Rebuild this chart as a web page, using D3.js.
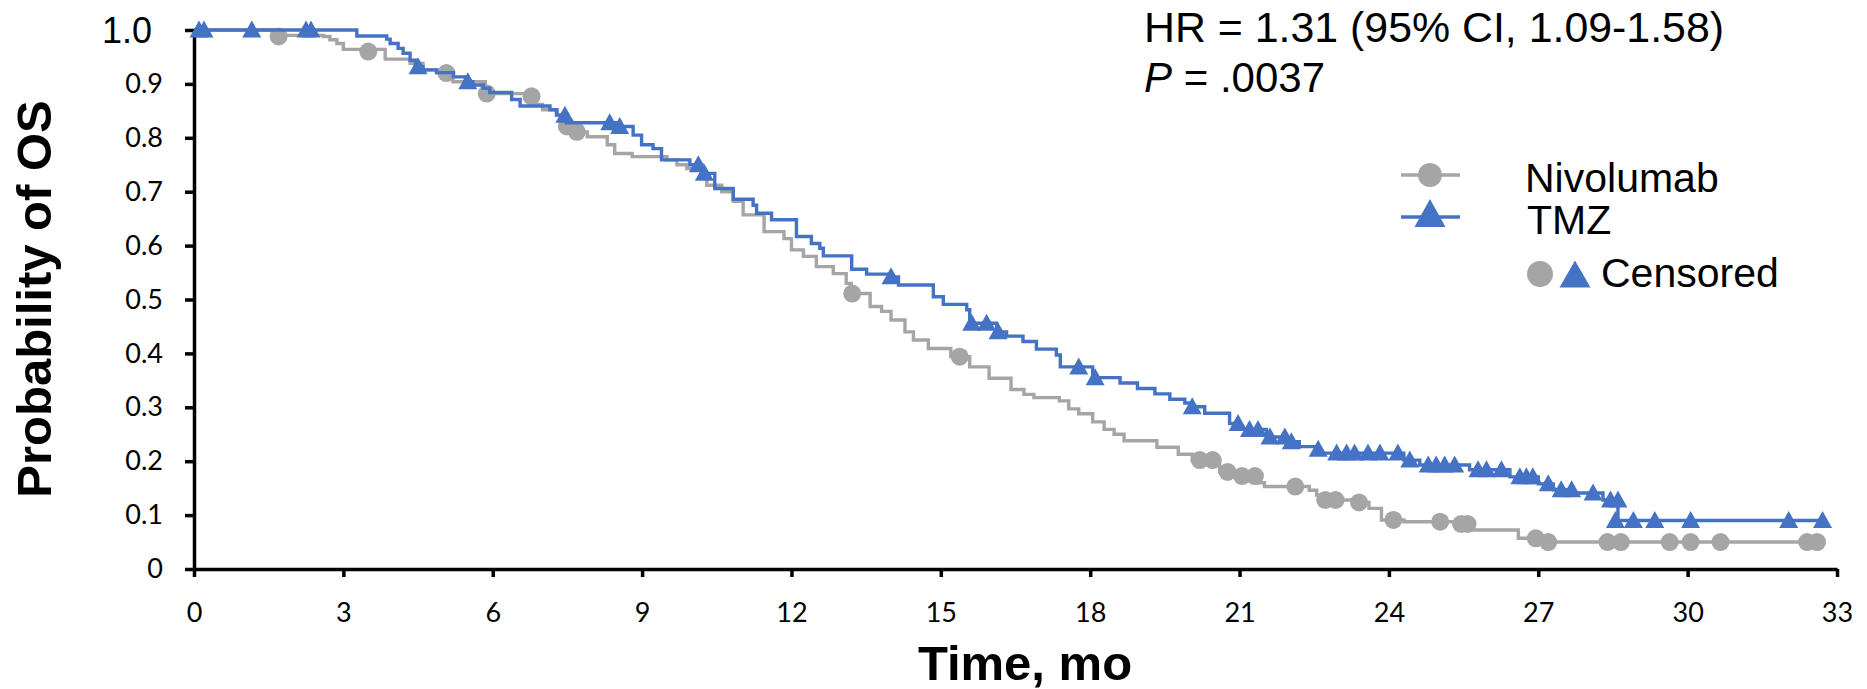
<!DOCTYPE html>
<html>
<head>
<meta charset="utf-8">
<script src="https://cdn.jsdelivr.net/npm/d3@7"></script>
<style>
  body { margin: 0; background: #fff; }
  svg { display: block; }
</style>
</head>
<body>
<div class="canvas"></div>
<script>
// data (months, survival probability)
const nivoTimes = [0, 1.6, 2.6, 2.73, 2.87, 3.0, 3.84, 4.34, 4.6, 4.9, 5.2, 5.85, 6.85, 7.0, 7.3, 7.45, 7.65, 7.9, 8.3, 8.45, 8.8, 9.5, 9.7, 9.9, 10.2, 10.3, 10.6, 10.83, 11.03, 11.45, 11.85, 12.0, 12.24, 12.5, 12.84, 13.1, 13.2, 13.58, 13.81, 14.0, 14.28, 14.45, 14.75, 15.2, 15.58, 15.97, 16.41, 16.67, 16.87, 17.38, 17.57, 17.77, 18.05, 18.28, 18.48, 18.68, 19.34, 19.77, 20.05, 20.6, 20.9, 21.35, 21.5, 22.4, 22.55, 22.65, 23.3, 23.6, 23.85, 24.3, 25.3, 25.66, 26.6, 27.1, 32.6];
const nivoSurv = [1, .99, .988, .982, .975, .964, .946, .938, .926, .92, .904, .882, .862, .852, .842, .821, .811, .802, .787, .771, .765, .759, .75, .743, .735, .712, .70, .682, .657, .626, .613, .592, .58, .561, .548, .53, .511, .487, .478, .462, .44, .425, .409, .394, .375, .354, .333, .324, .318, .312, .297, .288, .273, .259, .25, .238, .226, .213, .202, .18, .1725, .16, .153, .146, .137, .128, .1235, .1125, .091, .0878, .0835, .0724, .057, .05, .05];
const nivoCensTimes = [1.7, 3.5, 5.07, 5.88, 6.78, 7.49, 7.69, 13.22, 15.38, 20.2, 20.46, 20.76, 21.05, 21.31, 22.12, 22.72, 22.93, 23.40, 24.09, 25.03, 25.45, 25.58, 26.95, 27.2, 28.39, 28.66, 29.64, 30.06, 30.66, 32.4, 32.6];
const nivoCensSurv = [.988, .96, .92, .882, .877, .821, .811, .511, .394, .202, .202, .18, .1725, .1725, .153, .128, .128, .1235, .091, .0878, .0835, .0835, .057, .05, .05, .05, .05, .05, .05, .05, .05];

const tmzTimes = [0, 3.27, 3.87, 3.94, 4.10, 4.20, 4.34, 4.45, 4.60, 4.87, 5.21, 5.45, 5.60, 5.81, 5.94, 6.38, 6.55, 7.15, 7.28, 7.48, 8.55, 8.82, 8.99, 9.22, 9.39, 9.96, 10.2, 10.46, 10.83, 11.23, 11.30, 11.60, 12.10, 12.40, 12.57, 12.64, 13.21, 13.51, 13.98, 14.15, 14.85, 15.05, 15.52, 15.58, 16.12, 16.32, 16.65, 16.92, 17.32, 17.40, 18.05, 18.6, 18.95, 19.3, 19.6, 19.9, 20.0, 20.30, 20.80, 21.0, 21.54, 21.95, 22.2, 22.6, 24.3, 24.62, 25.62, 26.43, 27.0, 27.3, 27.6, 28.3, 28.6, 32.71];
const tmzSurv = [1.0, .989, .983, .975, .966, .957, .944, .932, .926, .921, .913, .904, .898, .892, .884, .871, .859, .852, .842, .828, .821, .805, .787, .780, .759, .750, .734, .706, .686, .675, .660, .648, .617, .604, .595, .581, .556, .547, .542, .527, .505, .491, .481, .456, .440, .432, .422, .408, .397, .375, .355, .345, .335, .325, .315, .308, .301, .289, .270, .259, .245, .236, .227, .215, .202, .193, .184, .171, .158, .147, .141, .128, .09, .09];
const tmzCensTimes = [0.1, 0.2, 1.16, 2.25, 2.35, 4.5, 5.5, 7.45, 8.35, 8.55, 10.13, 10.25, 14.0, 15.62, 15.92, 16.15, 17.77, 18.1, 20.05, 20.97, 21.2, 21.37, 21.61, 21.91, 22.04, 22.58, 22.95, 23.15, 23.31, 23.58, 23.82, 24.18, 24.42, 24.79, 24.95, 25.12, 25.32, 25.79, 25.96, 26.26, 26.63, 26.76, 26.89, 27.2, 27.46, 27.67, 28.1, 28.45, 28.6, 28.55, 28.91, 29.34, 30.06, 32.03, 32.71];
const tmzCensSurv = [1, 1, 1, 1, 1, .932, .904, .842, .828, .821, .750, .734, .542, .456, .456, .440, .375, .355, .301, .270, .259, .259, .245, .245, .236, .222, .215, .215, .215, .215, .215, .215, .202, .193, .193, .193, .193, .184, .184, .184, .171, .171, .171, .158, .147, .147, .141, .128, .128, .09, .09, .09, .09, .09, .09];

const xTicks = [0, 3, 6, 9, 12, 15, 18, 21, 24, 27, 30, 33];
const yTicks = [0, 0.1, 0.2, 0.3, 0.4, 0.5, 0.6, 0.7, 0.8, 0.9, 1.0];
const yTickLabels = ['0', '0.1', '0.2', '0.3', '0.4', '0.5', '0.6', '0.7', '0.8', '0.9', '1.0'];

const hrText = 'HR = 1.31 (95% CI, 1.09-1.58)';
const pValue = ' = .0037';
const seriesNames = ['Nivolumab', 'TMZ'];

// dimensions
const svgDimensions = { width: 1867, height: 689 };
const plot = { left: 194, right: 1837, top: 30, bottom: 569 };
const grey = '#a5a5a5';
const blue = '#4472c4';
const labelFont = 'Lato, "Open Sans", sans-serif';
const arial = '"Liberation Sans", Arial, sans-serif';

const svg = d3.select('.canvas')
    .append('svg')
        .attr('width', svgDimensions.width)
        .attr('height', svgDimensions.height);

const x = d3.scaleLinear().domain([0, 33]).range([plot.left, plot.right]);
const y = d3.scaleLinear().domain([0, 1]).range([plot.bottom, plot.top]);

// axes
const xAxis = d3.axisBottom(x)
    .tickValues(xTicks)
    .tickSize(8)
    .tickSizeOuter(0)
    .tickPadding(26);

const yAxis = d3.axisLeft(y)
    .tickValues(yTicks)
    .tickSize(9)
    .tickSizeOuter(0)
    .tickPadding(22)
    .tickFormat((d, i) => yTickLabels[i]);

const xAxisGroup = svg.append('g')
    .attr('transform', `translate(0,${plot.bottom})`)
    .call(xAxis);

const yAxisGroup = svg.append('g')
    .attr('transform', `translate(${plot.left},0)`)
    .call(yAxis);

[xAxisGroup, yAxisGroup].forEach(g => {
    g.select('.domain').attr('stroke', '#000').attr('stroke-width', 3.5);
    g.selectAll('.tick line').attr('stroke', '#000').attr('stroke-width', 3.5);
    g.selectAll('.tick text')
        .attr('fill', '#000')
        .style('font-family', labelFont)
        .style('font-size', '27px');
});

// the top label is set bigger in the original
yAxisGroup.selectAll('.tick text')
    .filter(d => d === 1)
    .attr('x', -42)
    .attr('dy', '0.36em')
    .style('font-family', arial)
    .style('font-size', '36px');

// axis titles
svg.append('text')
    .attr('x', 1025)
    .attr('y', 680)
    .attr('text-anchor', 'middle')
    .style('font-family', arial)
    .style('font-weight', 'bold')
    .style('font-size', '49px')
    .text('Time, mo');

svg.append('text')
    .attr('transform', 'translate(51,299) rotate(-90)')
    .attr('text-anchor', 'middle')
    .style('font-family', arial)
    .style('font-weight', 'bold')
    .style('font-size', '49px')
    .text('Probability of OS');

// step lines
const stepLine = d3.line()
    .x(d => x(d[0]))
    .y(d => y(d[1]))
    .curve(d3.curveStepAfter);

const nivoData = d3.zip(nivoTimes, nivoSurv);
const tmzData = d3.zip(tmzTimes, tmzSurv);

const triangle = (w, h) => `M0,${-h / 2}L${w / 2},${h / 2}L${-w / 2},${h / 2}Z`;

const graph = svg.append('g');

graph.append('path')
    .datum(nivoData)
    .attr('d', stepLine)
    .attr('fill', 'none')
    .attr('stroke', grey)
    .attr('stroke-width', 3.4);

graph.selectAll('circle.nivo')
    .data(d3.zip(nivoCensTimes, nivoCensSurv))
    .enter()
    .append('circle')
        .attr('class', 'nivo')
        .attr('cx', d => x(d[0]))
        .attr('cy', d => y(d[1]))
        .attr('r', 9)
        .attr('fill', grey);

graph.append('path')
    .datum(tmzData)
    .attr('d', stepLine)
    .attr('fill', 'none')
    .attr('stroke', blue)
    .attr('stroke-width', 3.4);

graph.selectAll('path.tmz')
    .data(d3.zip(tmzCensTimes, tmzCensSurv))
    .enter()
    .append('path')
        .attr('class', 'tmz')
        .attr('d', triangle(19, 17))
        .attr('transform', d => `translate(${x(d[0])},${y(d[1]) - 1})`)
        .attr('fill', blue);

// statistics text
const stats = svg.append('g')
    .style('font-family', arial)
    .style('font-size', '42px');

stats.append('text')
    .attr('x', 1144)
    .attr('y', 42)
    .attr('textLength', 580)
    .attr('lengthAdjust', 'spacingAndGlyphs')
    .text(hrText);

const pText = stats.append('text')
    .attr('x', 1144)
    .attr('y', 92);
pText.append('tspan').style('font-style', 'italic').text('P');
pText.append('tspan').text(pValue);

// legend
const legend = svg.append('g')
    .style('font-family', arial)
    .style('font-size', '41px');

legend.append('line')
    .attr('x1', 1401).attr('x2', 1460)
    .attr('y1', 175).attr('y2', 175)
    .attr('stroke', grey).attr('stroke-width', 3.5);
legend.append('circle')
    .attr('cx', 1430).attr('cy', 175).attr('r', 12)
    .attr('fill', grey);
legend.append('text')
    .attr('x', 1525).attr('y', 192)
    .text(seriesNames[0]);

legend.append('line')
    .attr('x1', 1401).attr('x2', 1460)
    .attr('y1', 217).attr('y2', 217)
    .attr('stroke', blue).attr('stroke-width', 3.5);
legend.append('path')
    .attr('d', triangle(31, 28))
    .attr('transform', 'translate(1430,213)')
    .attr('fill', blue);
legend.append('text')
    .attr('x', 1527).attr('y', 234)
    .text(seriesNames[1]);

legend.append('circle')
    .attr('cx', 1540).attr('cy', 274).attr('r', 13)
    .attr('fill', grey);
legend.append('path')
    .attr('d', triangle(31, 27))
    .attr('transform', 'translate(1575,274)')
    .attr('fill', blue);
legend.append('text')
    .attr('x', 1601).attr('y', 287)
    .text('Censored');
</script>
</body>
</html>
